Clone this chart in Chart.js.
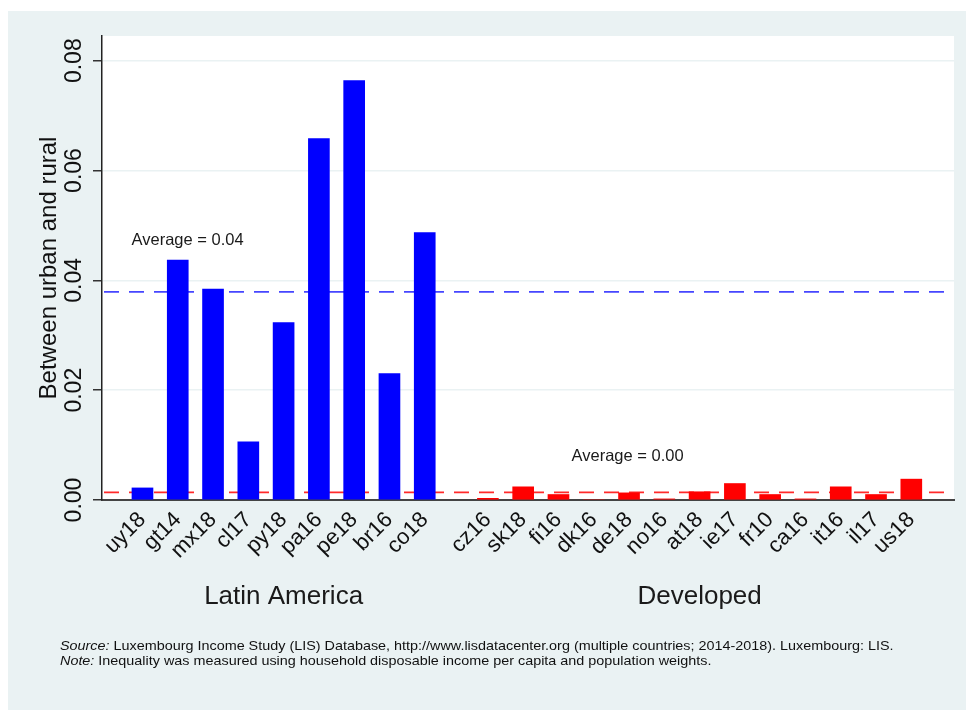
<!DOCTYPE html>
<html>
<head>
<meta charset="utf-8">
<script src="https://cdn.jsdelivr.net/npm/chart.js@4"></script>
<style>
  body { margin: 0; background: #fff; width: 966px; height: 710px; overflow: hidden; }
  #frame { position: absolute; left: 8px; top: 11px; width: 958px; height: 699px; background: #eaf2f3; }
  #chart { position: absolute; left: 0; top: 0; }
  #notes { position: absolute; left: 52px; top: 628px; font: 13px "Liberation Sans", Arial, sans-serif; line-height: 14.5px; color: #111; transform: scaleX(1.106); transform-origin: left top; white-space: nowrap; }
</style>
</head>
<body>
<div id="frame">
  <canvas id="chart" width="958" height="699"></canvas>
  <div id="notes">
    <div><i>Source:</i> Luxembourg Income Study (LIS) Database, http://www.lisdatacenter.org (multiple countries; 2014-2018). Luxembourg: LIS.</div>
    <div><i>Note:</i> Inequality was measured using household disposable income per capita and population weights.</div>
  </div>
</div>
<script>
const laLabels = ["uy18", "gt14", "mx18", "cl17", "py18", "pa16", "pe18", "br16", "co18"];
const laValues = [0.0022, 0.0437, 0.0384, 0.0106, 0.0323, 0.0658, 0.0764, 0.0230, 0.0487];
const devLabels = ["cz16", "sk18", "fi16", "dk16", "de18", "no16", "at18", "ie17", "fr10", "ca16", "it16", "il17", "us18"];
const devValues = [0.0003, 0.0024, 0.0010, 0.0000, 0.0013, 0.0002, 0.0015, 0.0030, 0.0010, 0.0002, 0.0024, 0.0010, 0.0038];
const groupNames = ["Latin America", "Developed"];
const yTicks = [0, 0.02, 0.04, 0.06, 0.08];
const yTitle = "Between urban and rural";

// gap between the two groups, in bar slots
const groupGap = 1.79;
const laX = laLabels.map((_, i) => i);
const devX = devLabels.map((_, j) => laLabels.length - 1 + groupGap + j);
const allX = laX.concat(devX);
const allLabels = laLabels.concat(devLabels);

const mean = (a) => a.reduce((s, v) => s + v, 0) / a.length;
const laAvg = mean(laValues);
const devAvg = mean(devValues);

const FONT = "'Liberation Sans', Arial, sans-serif";

const decorPlugin = {
  id: "decor",
  beforeDraw(chart) {
    const { ctx, chartArea: a } = chart;
    ctx.save();
    ctx.fillStyle = "#ffffff";
    ctx.fillRect(a.left, a.top, a.right - a.left, a.bottom - a.top);
    ctx.restore();
  },
  beforeDatasetsDraw(chart) {
    const { ctx, chartArea: a, scales: { x, y } } = chart;
    ctx.save();
    ctx.lineWidth = 1.6;
    ctx.setLineDash([15, 10]);
    [[laAvg, "#4646ff"], [devAvg, "#ff2a2a"]].forEach(([v, c]) => {
      const py = y.getPixelForValue(v);
      ctx.strokeStyle = c;
      ctx.beginPath();
      ctx.moveTo(a.left + 2, py);
      ctx.lineTo(a.right, py);
      ctx.stroke();
    });
    ctx.restore();
  },
  afterDraw(chart) {
    const { ctx, scales: { x, y } } = chart;
    ctx.save();
    ctx.fillStyle = "#1a1a1a";
    ctx.font = "16.5px " + FONT;
    ctx.textBaseline = "middle";
    ctx.textAlign = "left";
    ctx.fillText("Average = " + laAvg.toFixed(2), x.getPixelForValue(-0.31), y.getPixelForValue(0.0473));
    ctx.fillText("Average = " + devAvg.toFixed(2), x.getPixelForValue(12.16), y.getPixelForValue(0.0079));

    ctx.font = "26px " + FONT;
    ctx.textAlign = "center";
    ctx.fillText(groupNames[0], x.getPixelForValue(mean(laX)), 586);
    ctx.fillText(groupNames[1], x.getPixelForValue(mean(devX)), 586);
    ctx.restore();
  }
};

new Chart(document.getElementById("chart"), {
  type: "bar",
  data: {
    datasets: [
      {
        label: groupNames[0],
        data: laX.map((v, i) => ({ x: v, y: laValues[i] })),
        backgroundColor: "#0000ff",
        grouped: false,
        barThickness: 21
      },
      {
        label: groupNames[1],
        data: devX.map((v, i) => ({ x: v, y: devValues[i] })),
        backgroundColor: "#ff0000",
        grouped: false,
        barThickness: 21
      }
    ]
  },
  options: {
    responsive: false,
    animation: false,
    layout: { padding: { top: 25, right: 12, left: 0, bottom: 0 } },
    plugins: { legend: { display: false }, tooltip: { enabled: false } },
    scales: {
      x: {
        type: "linear",
        min: -1.147,
        max: 23.0,
        offset: false,
        grid: { display: false, offset: false },
        border: { color: "#444", width: 2 },
        afterBuildTicks: (axis) => { axis.ticks = allX.map((v) => ({ value: v })); },
        afterFit: (axis) => { axis.height = 210; },
        ticks: {
          autoSkip: false,
          minRotation: 45,
          maxRotation: 45,
          padding: -1,
          color: "#111",
          font: { family: FONT, size: 22 },
          callback: (v, i) => allLabels[i]
        }
      },
      y: {
        min: 0,
        max: 0.0845,
        grid: { color: "#eaf2f3", lineWidth: 1.5, tickLength: 9, tickColor: "#333" },
        border: { color: "#222", width: 1.5 },
        afterBuildTicks: (axis) => { axis.ticks = yTicks.map((v) => ({ value: v })); },
        afterFit: (axis) => { axis.width = 94; },
        title: {
          display: true,
          text: yTitle,
          color: "#111",
          font: { family: FONT, size: 24 },
          padding: { top: 27, bottom: 0 }
        },
        ticks: {
          minRotation: 90,
          maxRotation: 90,
          crossAlign: "center",
          padding: -4,
          color: "#111",
          font: { family: FONT, size: 23 },
          callback: (v) => v.toFixed(2)
        }
      }
    }
  },
  plugins: [decorPlugin]
});
</script>
</body>
</html>
